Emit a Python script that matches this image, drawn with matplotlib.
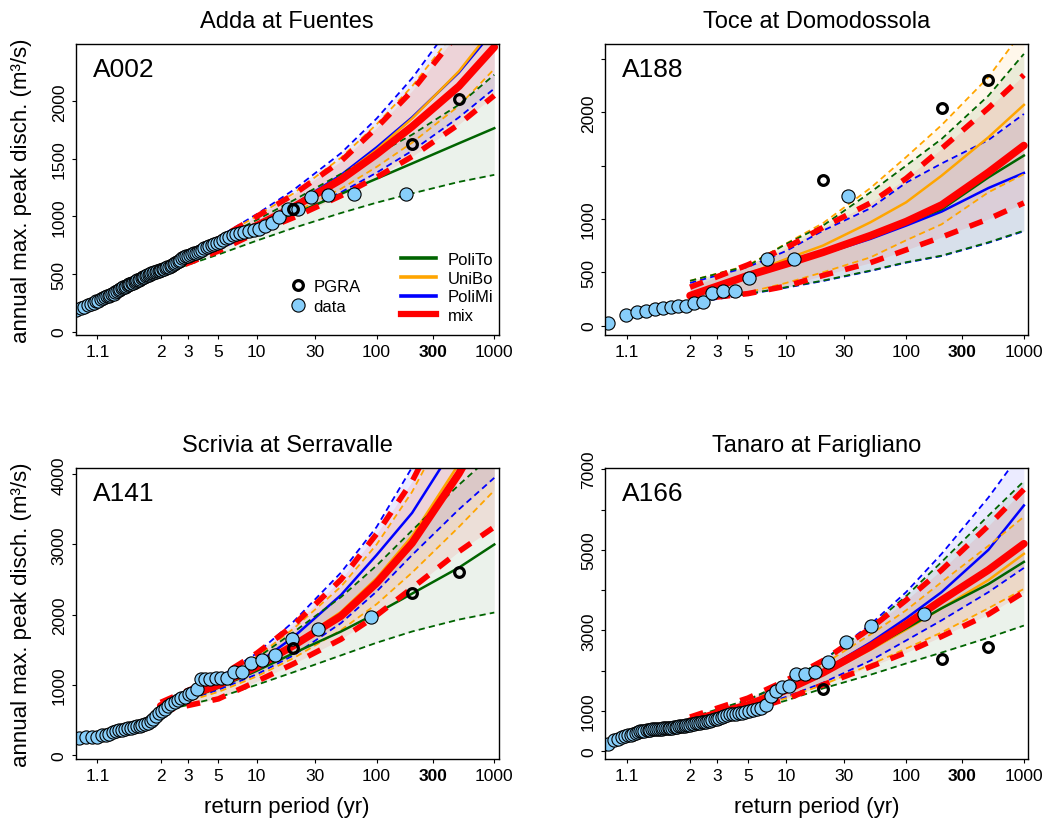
import numpy as np
import matplotlib
matplotlib.use("Agg")
import matplotlib.pyplot as plt
from matplotlib.lines import Line2D

plt.rcParams['font.family'] = ['Liberation Sans', 'DejaVu Sans']
plt.rcParams['lines.scale_dashes'] = False

# return periods at which the fitted curves were read
T_CURVE = [2, 5, 10, 20, 50, 100, 200, 500, 1000]
T_PGRA = [20, 200, 500]
TICK_T = [1.1, 2, 3, 5, 10, 30, 100, 300, 1000]
TICK_LABELS = ['1.1', '2', '3', '5', '10', '30', '100', '300', '1000']

# ---- A002 Adda at Fuentes ----
a002_data = [160, 180, 192, 205, 215, 228, 243, 252, 262, 270, 280, 295, 300, 306, 312,
             318, 324, 330, 340, 350, 358, 366, 376, 386, 392, 398, 404, 410, 415, 420,
             425, 432, 438, 445, 452, 460, 466, 472, 478, 484, 490, 496, 501, 505, 510,
             514, 518, 523, 527, 531, 536, 541, 546, 552, 558, 563, 569, 576, 584, 592,
             602, 612, 622, 640, 648, 653, 658, 664, 672, 680, 687, 694, 702, 712, 722,
             732, 742, 752, 760, 768, 780, 795, 812, 825, 835, 847, 856, 864, 872, 880,
             893, 915, 940, 995, 1063, 1069, 1165, 1188, 1193, 1199]
a002_pgra = [1063, 1633, 2017]
a002_polito = [525, 740, 882, 1019, 1196, 1328, 1460, 1635, 1766]
a002_polito_lo = [500, 670, 790, 900, 1030, 1120, 1200, 1300, 1361]
a002_polito_hi = [555, 800, 970, 1140, 1370, 1540, 1710, 1970, 2230]
a002_unibo = [535, 760, 925, 1090, 1345, 1580, 1850, 2260, 2650]
a002_unibo_lo = [505, 715, 880, 1030, 1240, 1430, 1640, 1960, 2280]
a002_unibo_hi = [560, 810, 1005, 1200, 1510, 1800, 2130, 2650, 3150]
a002_polimi = [530, 755, 930, 1100, 1360, 1600, 1860, 2250, 2620]
a002_polimi_lo = [505, 710, 870, 1010, 1210, 1380, 1570, 1860, 2110]
a002_polimi_hi = [565, 820, 1020, 1230, 1550, 1850, 2200, 2750, 3250]
a002_mix = [530, 750, 920, 1080, 1320, 1540, 1780, 2130, 2470]
a002_mix_lo = [500, 700, 860, 990, 1180, 1340, 1520, 1800, 2050]
a002_mix_hi = [560, 805, 1000, 1190, 1480, 1770, 2090, 2600, 3050]

# ---- A188 Toce at Domodossola ----
a188_data = [25, 100, 131, 141, 156, 163, 172, 181, 188, 209, 219, 303, 325, 325,
             444, 625, 625, 1219]
a188_pgra = [1366, 2038, 2306]
a188_polito = [275, 455, 575, 690, 850, 965, 1090, 1390, 1594]
a188_polito_lo = [212, 297, 360, 422, 516, 594, 656, 781, 890]
a188_polito_hi = [420, 560, 766, 937, 1250, 1500, 1750, 2156, 2547]
a188_unibo = [281, 484, 625, 750, 969, 1156, 1406, 1766, 2069]
a188_unibo_lo = [250, 312, 400, 500, 640, 800, 950, 1250, 1420]
a188_unibo_hi = [420, 565, 770, 960, 1290, 1580, 1880, 2330, 2780]
a188_polimi = [266, 453, 578, 672, 813, 938, 1069, 1290, 1431]
a188_polimi_lo = [210, 294, 356, 418, 512, 590, 652, 776, 885]
a188_polimi_hi = [400, 550, 700, 890, 1100, 1340, 1520, 1740, 1984]
a188_mix = [281, 469, 578, 687, 844, 975, 1131, 1437, 1688]
a188_mix_lo = [240, 300, 370, 470, 590, 710, 830, 1000, 1150]
a188_mix_hi = [360, 570, 730, 920, 1150, 1380, 1660, 2040, 2350]

# ---- A141 Scrivia at Serravalle ----
a141_data = [220, 240, 250, 255, 262, 278, 290, 305, 322, 340, 355, 362, 370, 378, 385,
             395, 407, 415, 425, 440, 460, 487, 520, 558, 600, 629, 660, 700, 720, 757,
             780, 809, 830, 866, 890, 937, 1078, 1085, 1090, 1093, 1095, 1102, 1183, 1183,
             1315, 1353, 1424, 1656, 1797, 1971]
a141_pgra = [1525, 2304, 2603]
a141_polito = [650, 960, 1200, 1450, 1760, 2020, 2300, 2670, 3000]
a141_polito_lo = [620, 820, 1000, 1180, 1420, 1600, 1760, 1930, 2030]
a141_polito_hi = [720, 1060, 1380, 1750, 2250, 2700, 3200, 3850, 4300]
a141_unibo = [690, 990, 1250, 1580, 2040, 2520, 3120, 4150, 5100]
a141_unibo_lo = [650, 900, 1120, 1380, 1780, 2150, 2600, 3250, 3770]
a141_unibo_hi = [730, 1080, 1400, 1800, 2400, 3000, 3750, 5000, 6200]
a141_polimi = [700, 1010, 1300, 1680, 2280, 2850, 3450, 4500, 5500]
a141_polimi_lo = [660, 930, 1150, 1420, 1880, 2330, 2850, 3500, 3950]
a141_polimi_hi = [740, 1100, 1450, 1900, 2600, 3250, 4100, 5500, 6800]
a141_mix = [700, 1000, 1260, 1560, 1980, 2450, 3020, 4010, 4900]
a141_mix_lo = [620, 800, 1050, 1300, 1650, 1990, 2380, 2900, 3250]
a141_mix_hi = [750, 1110, 1450, 1850, 2500, 3150, 3900, 5200, 6400]

# ---- A166 Tanaro at Farigliano ----
a166_data = [120, 150, 180, 270, 310, 345, 375, 395, 410, 425, 445, 470, 495, 505, 515,
             525, 535, 541, 545, 549, 552, 555, 558, 562, 566, 570, 575, 580, 584, 590,
             596, 602, 610, 618, 626, 632, 640, 648, 656, 665, 672, 680, 690, 700, 708,
             716, 725, 734, 742, 750, 770, 790, 810, 828, 845, 870, 895, 915, 925, 935,
             948, 960, 980, 1000, 1020, 1040, 1070, 1141, 1374, 1500, 1608, 1624, 1916,
             1916, 1958, 2205, 2704, 3120, 3395]
a166_pgra = [1556, 2288, 2596]
a166_polito = [750, 1150, 1510, 1930, 2550, 3050, 3550, 4150, 4700]
a166_polito_lo = [680, 990, 1260, 1560, 1900, 2180, 2450, 2820, 3120]
a166_polito_hi = [830, 1280, 1720, 2250, 3100, 3850, 4700, 5850, 6700]
a166_unibo = [740, 1130, 1490, 1900, 2520, 3020, 3550, 4250, 4900]
a166_unibo_lo = [690, 1030, 1320, 1650, 2150, 2550, 2950, 3550, 4030]
a166_unibo_hi = [790, 1230, 1650, 2150, 2900, 3500, 4200, 5100, 5820]
a166_polimi = [760, 1160, 1530, 2000, 2700, 3300, 3950, 5000, 6100]
a166_polimi_lo = [700, 1050, 1350, 1700, 2250, 2750, 3250, 3950, 4550]
a166_polimi_hi = [800, 1250, 1700, 2250, 3150, 3950, 4900, 6300, 7500]
a166_mix = [750, 1150, 1520, 1950, 2600, 3150, 3750, 4500, 5150]
a166_mix_lo = [680, 1000, 1300, 1650, 2100, 2450, 2850, 3400, 3950]
a166_mix_hi = [850, 1320, 1760, 2250, 3050, 3750, 4500, 5600, 6500]

MODEL_COLORS = {'PoliTo': 'darkgreen', 'UniBo': 'orange', 'PoliMi': 'blue', 'mix': 'red'}
DRAW_ORDER = ['PoliMi', 'UniBo', 'PoliTo', 'mix']


def gumbel(T):
    T = np.asarray(T, dtype=float)
    with np.errstate(all='ignore'):
        return -np.log(-np.log(1.0 - 1.0 / T))


def gumbel_inv(y):
    y = np.asarray(y, dtype=float)
    with np.errstate(all='ignore'):
        return 1.0 / (1.0 - np.exp(-np.exp(-y)))


def gringorten(n):
    rank = np.arange(n, 0, -1)
    return (n + 0.12) / (rank - 0.44)


panels = [
    dict(title='Adda at Fuentes', code='A002', data=a002_data, pgra=a002_pgra,
         models={'PoliTo': (a002_polito_lo, a002_polito, a002_polito_hi),
                 'UniBo': (a002_unibo_lo, a002_unibo, a002_unibo_hi),
                 'PoliMi': (a002_polimi_lo, a002_polimi, a002_polimi_hi),
                 'mix': (a002_mix_lo, a002_mix, a002_mix_hi)},
         ylim=(-29, 2497), yticks=[0, 500, 1000, 1500, 2000],
         ylabels=['0', '500', '1000', '1500', '2000'], box=(75.7, 498.7, 45, 336)),
    dict(title='Toce at Domodossola', code='A188', data=a188_data, pgra=a188_pgra,
         models={'PoliTo': (a188_polito_lo, a188_polito, a188_polito_hi),
                 'UniBo': (a188_unibo_lo, a188_unibo, a188_unibo_hi),
                 'PoliMi': (a188_polimi_lo, a188_polimi, a188_polimi_hi),
                 'mix': (a188_mix_lo, a188_mix, a188_mix_hi)},
         ylim=(-88, 2640), yticks=[0, 500, 1000, 1500, 2000, 2500],
         ylabels=['0', '500', '1000', '', '2000', ''], box=(605, 1028.3, 45, 336)),
    dict(title='Scrivia at Serravalle', code='A141', data=a141_data, pgra=a141_pgra,
         models={'PoliTo': (a141_polito_lo, a141_polito, a141_polito_hi),
                 'UniBo': (a141_unibo_lo, a141_unibo, a141_unibo_hi),
                 'PoliMi': (a141_polimi_lo, a141_polimi, a141_polimi_hi),
                 'mix': (a141_mix_lo, a141_mix, a141_mix_hi)},
         ylim=(-57, 4090), yticks=[0, 1000, 2000, 3000, 4000],
         ylabels=['0', '1000', '2000', '3000', '4000'], box=(75.7, 498.7, 469, 760)),
    dict(title='Tanaro at Farigliano', code='A166', data=a166_data, pgra=a166_pgra,
         models={'PoliTo': (a166_polito_lo, a166_polito, a166_polito_hi),
                 'UniBo': (a166_unibo_lo, a166_unibo, a166_unibo_hi),
                 'PoliMi': (a166_polimi_lo, a166_polimi, a166_polimi_hi),
                 'mix': (a166_mix_lo, a166_mix, a166_mix_hi)},
         ylim=(-191, 7030), yticks=[0, 1000, 2000, 3000, 4000, 5000, 6000, 7000],
         ylabels=['0', '1000', '', '3000', '', '5000', '', '7000'], box=(605, 1028.3, 469, 760)),
]

W, H = 1048, 829
fig = plt.figure(figsize=(W / 100, H / 100), dpi=100)

for p in panels:
    l, r, t, b = p['box']
    ax = fig.add_axes([l / W, 1 - b / H, (r - l) / W, (b - t) / H])
    ax.set_xscale('function', functions=(gumbel, gumbel_inv))

    # confidence bands
    for name in DRAW_ORDER:
        lo, mid, hi = p['models'][name]
        ax.fill_between(T_CURVE, lo, hi, color=MODEL_COLORS[name], alpha=0.08, lw=0)
    # bounds and central curves
    for name in DRAW_ORDER:
        lo, mid, hi = p['models'][name]
        c = MODEL_COLORS[name]
        if name == 'mix':
            ax.plot(T_CURVE, lo, color=c, lw=4.0, dashes=(10, 9))
            ax.plot(T_CURVE, hi, color=c, lw=4.0, dashes=(10, 9))
            ax.plot(T_CURVE, mid, color=c, lw=5.5, solid_capstyle='round')
        else:
            ax.plot(T_CURVE, lo, color=c, lw=1.3, dashes=(4.5, 3))
            ax.plot(T_CURVE, hi, color=c, lw=1.3, dashes=(4.5, 3))
            ax.plot(T_CURVE, mid, color=c, lw=1.8)

    ax.plot(gringorten(len(p['data'])), p['data'], 'o', ms=9.5, mfc='lightskyblue',
            mec='black', mew=0.8)
    ax.plot(T_PGRA, p['pgra'], 'o', ms=7, mfc='none', mec='black', mew=2.3)

    ax.set_xlim(gumbel_inv(-1.30), gumbel_inv(6.994))
    ax.set_ylim(*p['ylim'])
    ax.set_xticks(TICK_T, TICK_LABELS)
    ax.xaxis.set_minor_locator(matplotlib.ticker.NullLocator())
    ax.set_yticks(p['yticks'], p['ylabels'])
    ax.tick_params(direction='out', length=3, width=0.8, labelsize=12.5, pad=3.5)
    ax.tick_params(axis='y', labelrotation=90)
    for lbl in ax.get_yticklabels():
        lbl.set_va('center')
    ax.xaxis.get_major_ticks()[7].label1.set_fontweight('bold')
    for s in ax.spines.values():
        s.set_linewidth(1.0)

    ax.set_title(p['title'], fontsize=17, pad=12)
    ax.text(0.04, 0.89, p['code'], transform=ax.transAxes, fontsize=19, va='baseline')

    if p['code'] == 'A002':
        h1 = [Line2D([], [], ls='none', marker='o', ms=7, mfc='none', mec='black', mew=2.3),
              Line2D([], [], ls='none', marker='o', ms=9.5, mfc='lightskyblue', mec='black', mew=0.8)]
        leg1 = ax.legend(h1, ['PGRA', 'data'], loc='center', bbox_to_anchor=(0.59, 0.134),
                         frameon=False, fontsize=12, handlelength=1.0, handletextpad=0.4,
                         labelspacing=0.3, borderpad=0)
        ax.add_artist(leg1)
        h2 = [Line2D([], [], color=MODEL_COLORS[n], lw=(4.5 if n == 'mix' else 2.6))
              for n in ['PoliTo', 'UniBo', 'PoliMi', 'mix']]
        ax.legend(h2, ['PoliTo', 'UniBo', 'PoliMi', 'mix'], loc='center',
                  bbox_to_anchor=(0.878, 0.163), frameon=False, fontsize=12,
                  handlelength=2.1, handletextpad=0.7, labelspacing=0.22, borderpad=0)

# shared axis titles
for yc in [(45 + 336) / 2, (469 + 760) / 2]:
    fig.text(22 / W, 1 - yc / H, 'annual max. peak disch. (m³/s)', rotation=90,
             ha='center', va='center', fontsize=16)
for xc in [(75.7 + 498.7) / 2, (605 + 1028.3) / 2]:
    fig.text(xc / W, 1 - 808 / H, 'return period (yr)', ha='center', va='center', fontsize=16)

fig.savefig('out.png', dpi=100)
